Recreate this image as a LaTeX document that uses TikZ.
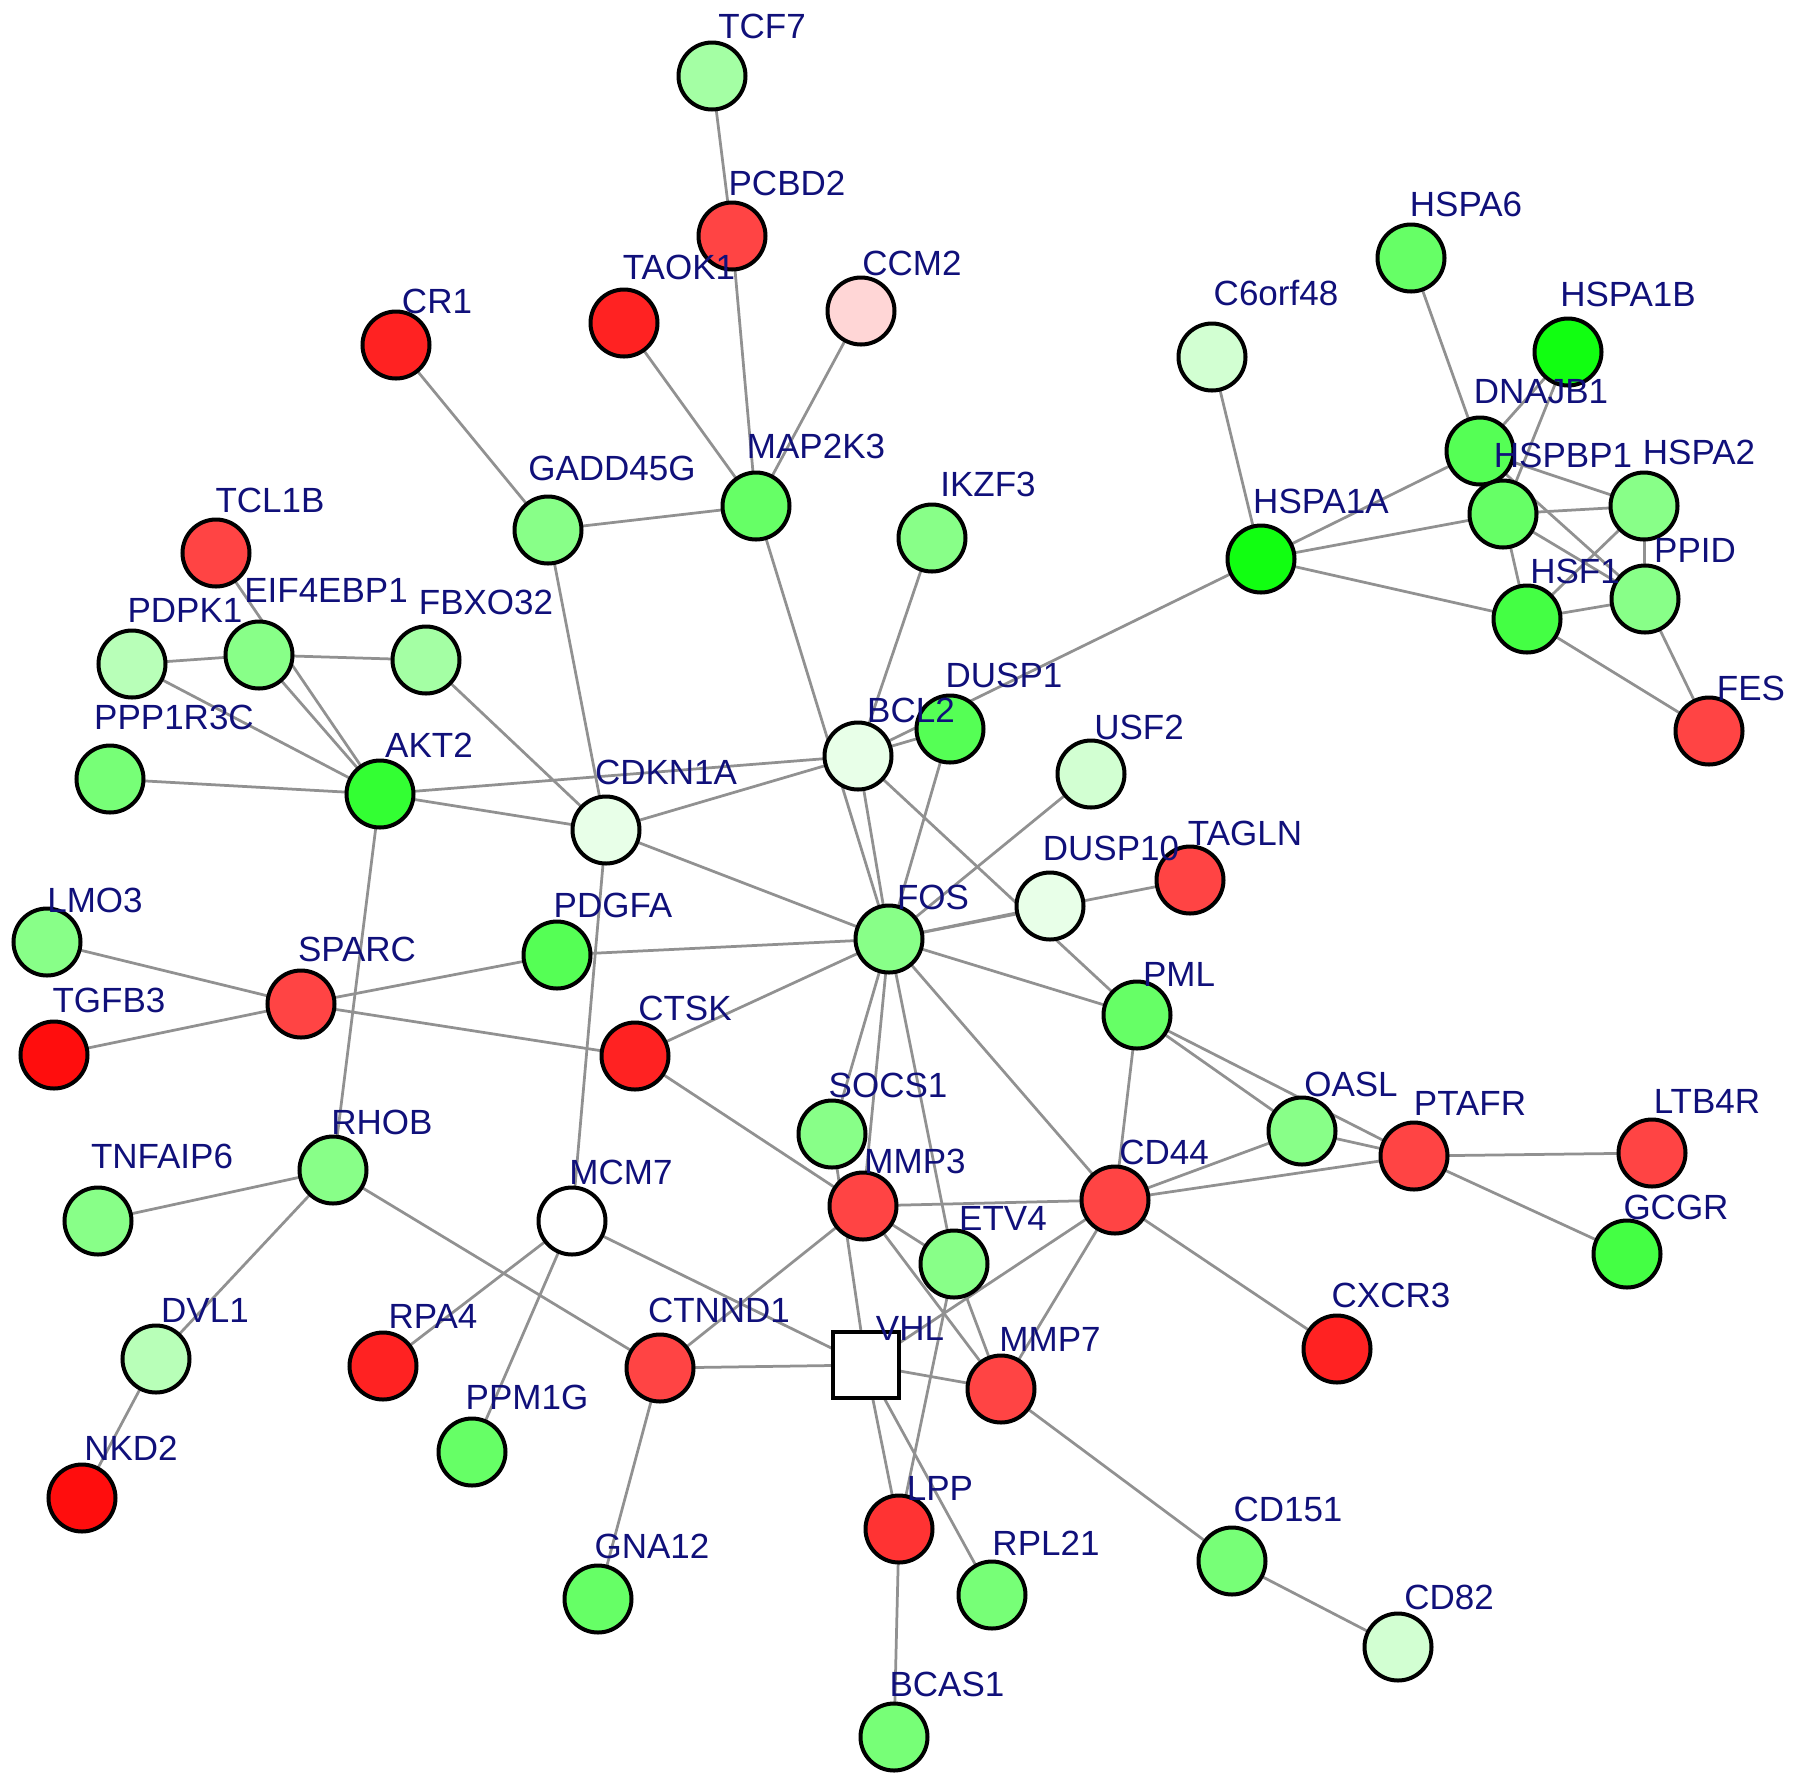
\documentclass[tikz,border=0pt]{standalone}
\usepackage{fontspec}
\setmainfont{Liberation Sans}
\usetikzlibrary{backgrounds}
\definecolor{labc}{RGB}{16,16,122}
\definecolor{edgec}{RGB}{145,145,145}
\definecolor{r0}{HTML}{FF0D0D}
\definecolor{r1}{HTML}{FF2222}
\definecolor{r2}{HTML}{FF4444}
\definecolor{r3}{HTML}{FF3333}
\definecolor{pk}{HTML}{FFD6D6}
\definecolor{g0}{HTML}{11FF11}
\definecolor{g1}{HTML}{33FF33}
\definecolor{g2}{HTML}{44FF44}
\definecolor{g3}{HTML}{55FF55}
\definecolor{g4}{HTML}{66FF66}
\definecolor{g5}{HTML}{77FF77}
\definecolor{g6}{HTML}{88FF88}
\definecolor{g7}{HTML}{A4FFA4}
\definecolor{g8}{HTML}{B8FFB8}
\definecolor{g9}{HTML}{D2FFD2}
\definecolor{g10}{HTML}{E8FFE8}
\tikzset{
  gn/.style={circle, draw=black, line width=1.6pt, minimum size=26.8pt, inner sep=0pt},
  sq/.style={rectangle, draw=black, line width=1.6pt, minimum size=26.4pt, inner sep=0pt, fill=white},
  lab/.style={text=labc, inner sep=0pt, font=\fontsize{14}{14}\selectfont},
  ed/.style={draw=edgec, line width=1.1pt}
}
\begin{document}
\begin{tikzpicture}[x=0.4pt, y=-0.4pt]
\useasboundingbox (0,0) rectangle (1795,1788);
% nodes
\foreach \n/\x/\y/\c in {
TCF7/712/76/g7, PCBD2/732/236/r2, TAOK1/624/323/r1, CCM2/861/311/pk, CR1/396/345/r1,
GADD45G/548/530/g6, MAP2K3/756/506/g4, TCL1B/216/553/r2, EIF4EBP1/259/655/g6,
PDPK1/132/664/g8, FBXO32/426/660/g7, PPP1R3C/110/779/g5, AKT2/380/794/g1,
CDKN1A/606/830/g10, BCL2/858/756/g10, HSPA6/1411/258/g4, C6orf48/1212/357/g9,
HSPA1B/1568/352/g0, DNAJB1/1480/451/g3, HSPBP1/1503/514/g4, HSPA2/1644/506/g6,
HSPA1A/1261/559/g0, PPID/1645/599/g6, HSF1/1527/619/g2, FES/1709/731/r2,
IKZF3/932/538/g6, DUSP1/950/729/g3, USF2/1091/774/g9, DUSP10/1050/906/g10,
TAGLN/1190/880/r2, FOS/889/939/g6, LMO3/47/942/g6, SPARC/301/1004/r2,
PDGFA/557/955/g3, TGFB3/54/1055/r0, CTSK/635/1056/r1, RHOB/333/1170/g6,
TNFAIP6/98/1221/g6, MCM7/572/1221/white, SOCS1/832/1134/g6, MMP3/863/1206/r2,
DVL1/156/1359/g8, RPA4/383/1366/r1, CTNND1/660/1368/r2, PPM1G/472/1452/g4,
NKD2/82/1498/r0, GNA12/598/1599/g4, BCAS1/894/1737/g5, PML/1137/1015/g4,
OASL/1302/1131/g6, PTAFR/1414/1156/r2, LTB4R/1652/1153/r2, CD44/1115/1200/r2,
ETV4/954/1264/g6, GCGR/1627/1254/g2, CXCR3/1337/1349/r1, MMP7/1001/1389/r2,
LPP/899/1529/r3, RPL21/992/1595/g5, CD151/1232/1561/g5, CD82/1398/1647/g9}
  \node[gn, fill=\c] (\n) at (\x,\y) {};
\node[sq] (VHL) at (866,1365) {};
% labels
\foreach \n/\x/\y in {
TCF7/762/26, PCBD2/787/183, TAOK1/679/267, CCM2/912/263, CR1/437/301,
GADD45G/612/468, MAP2K3/816/446, TCL1B/270/500, EIF4EBP1/326/590,
PDPK1/185/610, FBXO32/486/602, PPP1R3C/174/717, AKT2/429/745,
CDKN1A/666/772, BCL2/911/710, HSPA6/1466/204, C6orf48/1276/293,
HSPA1B/1628/294, DNAJB1/1541/392, HSPBP1/1563/455, HSPA2/1699/452,
HSPA1A/1321/501, PPID/1695/550, HSF1/1575/571, FES/1751/688,
IKZF3/988/484, DUSP1/1004/675, USF2/1139/727, DUSP10/1111/848,
TAGLN/1245/833, FOS/933/897, LMO3/95/900, SPARC/357/949,
PDGFA/613/905, TGFB3/109/1000, CTSK/685/1008, RHOB/382/1122,
TNFAIP6/162/1156, MCM7/621/1172, SOCS1/888/1085, MMP3/915/1161,
DVL1/205/1310, RPA4/433/1316, CTNND1/719/1310, VHL/910/1328, PPM1G/527/1397,
NKD2/131/1448, GNA12/652/1546, BCAS1/947/1684, PML/1179/974,
OASL/1351/1084, PTAFR/1470/1103, LTB4R/1707/1101, CD44/1164/1152,
ETV4/1003/1218, GCGR/1676/1207, CXCR3/1391/1295, MMP7/1050/1339,
LPP/940/1488, RPL21/1046/1543, CD151/1288/1509, CD82/1449/1597}
  \node[lab] (\n-l) at (\x,\y) {\n};
% edges
\begin{pgfonlayer}{background}
\foreach \a/\b in {
TCF7/PCBD2, PCBD2/MAP2K3, TAOK1/MAP2K3, CCM2/MAP2K3, CR1/GADD45G,
GADD45G/MAP2K3, GADD45G/CDKN1A, MAP2K3/FOS, IKZF3/BCL2, TCL1B/AKT2,
EIF4EBP1/AKT2, PDPK1/AKT2, PDPK1/EIF4EBP1, EIF4EBP1/FBXO32, FBXO32/CDKN1A,
PPP1R3C/AKT2, AKT2/CDKN1A, AKT2/BCL2, CDKN1A/BCL2, CDKN1A/FOS, CDKN1A/MCM7,
AKT2/RHOB, BCL2/FOS, BCL2/DUSP1, HSPA1A/BCL2, DUSP1/FOS, FOS/USF2,
FOS/DUSP10, FOS/TAGLN, BCL2/PML, FOS/PML, FOS/CD44, FOS/PDGFA, FOS/CTSK,
FOS/SOCS1, FOS/MMP3, FOS/ETV4, SPARC/LMO3, SPARC/TGFB3, SPARC/PDGFA,
SPARC/CTSK, CTSK/MMP3, RHOB/TNFAIP6, RHOB/DVL1, RHOB/CTNND1, DVL1/NKD2,
MCM7/RPA4, MCM7/PPM1G, MCM7/VHL, CTNND1/VHL, CTNND1/MMP3, CTNND1/GNA12,
SOCS1/VHL, VHL/MMP7, VHL/CD44, VHL/LPP, VHL/RPL21, MMP3/CD44, MMP3/MMP7,
MMP3/ETV4, ETV4/MMP7, ETV4/LPP, CD44/PML, CD44/OASL, CD44/PTAFR,
CD44/CXCR3, CD44/MMP7, PML/OASL, PML/PTAFR, OASL/PTAFR, PTAFR/LTB4R,
PTAFR/GCGR, MMP7/CD151, CD151/CD82, LPP/BCAS1, C6orf48/HSPA1A,
HSPA1A/DNAJB1, HSPA1A/HSPBP1, HSPA1A/HSF1, HSPA6/DNAJB1, HSPA1B/DNAJB1,
HSPA1B/HSPBP1, DNAJB1/HSPA2, DNAJB1/PPID, HSPBP1/HSPA2, HSPBP1/PPID,
HSPBP1/HSF1, HSF1/HSPA2, HSF1/PPID, HSPA2/PPID, HSF1/FES, PPID/FES}
  \draw[ed] (\a.center) -- (\b.center);
\end{pgfonlayer}
\end{tikzpicture}
\end{document}
